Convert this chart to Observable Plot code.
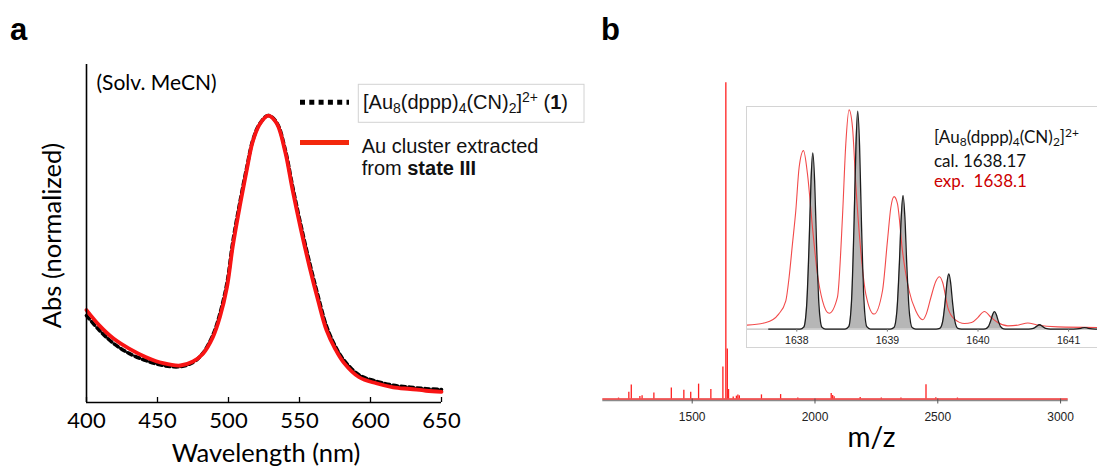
<!DOCTYPE html>
<html><head><meta charset="utf-8">
<script src="https://cdn.jsdelivr.net/npm/d3@7"></script>
<script src="https://cdn.jsdelivr.net/npm/@observablehq/plot@0.6"></script>
<style>
html,body{margin:0;padding:0;background:#fff}
#root{position:relative;width:1097px;height:466px;overflow:hidden;background:#fff}
#root svg{max-width:none !important;display:block}
.wrap{position:absolute}
</style></head>
<body><div id="root"></div>
<script>
// ---------- Panel a: UV-vis ----------
const wavelength = [400, 409, 419, 430, 442, 454, 466, 475, 482, 489, 494, 499, 503, 508, 513, 517, 522, 528, 534, 540, 545, 551, 557, 563, 569, 575, 581, 592, 604, 616, 628, 639, 650];
const absCluster1 = [0.303, 0.252, 0.206, 0.171, 0.146, 0.129, 0.125, 0.140, 0.172, 0.235, 0.310, 0.418, 0.558, 0.697, 0.822, 0.912, 0.972, 1.0, 0.975, 0.880, 0.756, 0.617, 0.489, 0.372, 0.266, 0.198, 0.149, 0.096, 0.074, 0.060, 0.053, 0.048, 0.045];
const absStateIII = [0.322, 0.269, 0.223, 0.188, 0.158, 0.137, 0.129, 0.143, 0.170, 0.228, 0.299, 0.404, 0.544, 0.685, 0.814, 0.908, 0.970, 1.0, 0.972, 0.872, 0.744, 0.603, 0.474, 0.357, 0.252, 0.188, 0.140, 0.088, 0.067, 0.053, 0.047, 0.041, 0.037];
const xTicksA = [400, 450, 500, 550, 600, 650];

// ---------- Panel b: mass spectrum ----------
const msMz  = [1200, 1242, 1252, 1287, 1296, 1344, 1415, 1466, 1494, 1526, 1576, 1625, 1637, 1643, 1648, 1667, 1680, 1686, 1692, 1782, 1860, 1930, 2066, 2072, 2078, 2184, 2270, 2350, 2452, 2492, 2580];
const msInt = [0.3, 2.1, 4.4, 0.8, 1.0, 1.9, 3.5, 2.8, 2.1, 4.7, 3.0, 10.1, 100, 15.8, 3.0, 0.6, 0.9, 1.3, 1.0, 1.3, 1.4, 0.3, 1.7, 1.1, 0.7, 0.5, 0.3, 0.3, 4.5, 0.4, 0.3];
const xTicksB = [1500, 2000, 2500, 3000];

// ---------- Inset: isotope pattern ----------
const expMz  = [1637.44, 1637.66, 1637.80, 1637.879, 1637.915, 1637.952, 1637.989, 1638.026, 1638.074, 1638.118, 1638.173, 1638.228, 1638.284, 1638.357, 1638.449, 1638.504, 1638.541, 1638.577, 1638.615, 1638.651, 1638.706, 1638.762, 1638.853, 1638.946, 1639.001, 1639.038, 1639.074, 1639.111, 1639.166, 1639.24, 1639.313, 1639.39, 1639.43, 1639.48, 1639.535, 1639.575, 1639.61, 1639.667, 1639.74, 1639.851, 1639.93, 1639.998, 1640.071, 1640.145, 1640.218, 1640.33, 1640.45, 1640.55, 1640.65, 1640.88, 1641.43];
const expInt = [1.8, 3.0, 6.9, 13.0, 23.7, 39.0, 54.3, 74.3, 81.9, 71.2, 46.7, 25.3, 13.0, 7.3, 14.7, 51.3, 85.0, 100.6, 92.6, 66.6, 36.0, 16.1, 6.9, 17.6, 40.6, 55.8, 60.8, 57.6, 36.0, 17.6, 8.4, 4.3, 7.0, 14.5, 22.0, 24.0, 21.4, 9.9, 4.6, 2.6, 3.0, 5.3, 8.1, 5.3, 3.0, 1.5, 1.9, 2.8, 1.9, 1.0, 0.7];
const calMz  = [1637.69,
  1638.037, 1638.077, 1638.109, 1638.137, 1638.157, 1638.177, 1638.197, 1638.217, 1638.245, 1638.277, 1638.317,
  1638.533, 1638.573, 1638.605, 1638.633, 1638.653, 1638.673, 1638.693, 1638.713, 1638.741, 1638.773, 1638.813,
  1639.033, 1639.073, 1639.105, 1639.133, 1639.153, 1639.173, 1639.193, 1639.213, 1639.241, 1639.273, 1639.313,
  1639.538, 1639.578, 1639.610, 1639.638, 1639.658, 1639.678, 1639.698, 1639.718, 1639.746, 1639.778, 1639.818,
  1640.042, 1640.082, 1640.114, 1640.142, 1640.162, 1640.182, 1640.202, 1640.222, 1640.250, 1640.282, 1640.322,
  1640.559, 1640.611, 1640.639, 1640.679, 1640.719, 1640.747, 1640.799,
  1641.056, 1641.136, 1641.176, 1641.216, 1641.296, 1641.43];
const calInt = [0,
  0, 0.9, 10.9, 40.5, 68, 80.9, 68, 40.5, 10.9, 0.9, 0,
  0, 1.1, 13.5, 50, 84, 100, 84, 50, 13.5, 1.1, 0,
  0, 0.7, 8.3, 30.7, 51.5, 61.3, 51.5, 30.7, 8.3, 0.7, 0,
  0, 0.3, 3.4, 12.7, 21.3, 25.3, 21.3, 12.7, 3.4, 0.3, 0,
  0, 0.1, 1.1, 4.0, 6.7, 8.0, 6.7, 4.0, 1.1, 0.1, 0,
  0, 0.3, 1.0, 2.0, 1.0, 0.3, 0,
  0, 0.35, 0.7, 0.35, 0, 0];
const xTicksInset = [1638, 1639, 1640, 1641];

// ---------- build tables ----------
const uv = wavelength.map((w, i) => ({w, c1: absCluster1[i], s3: absStateIII[i]}));
const ms = msMz.map((mz, i) => ({mz, int: msInt[i]}));
const expData = expMz.map((mz, i) => ({mz, int: expInt[i]}));
const calData = calMz.map((mz, i) => ({mz, int: calInt[i]}));
const plain = d => String(d);

const root = document.getElementById("root");
function place(node, left, top, w, h, extra) {
  const d = document.createElement("div");
  d.className = "wrap";
  d.style.left = left + "px"; d.style.top = top + "px";
  d.style.width = w + "px"; d.style.height = h + "px";
  if (extra) Object.assign(d.style, extra);
  d.appendChild(node);
  root.appendChild(d);
  return d;
}

// Panel a
const plotA = Plot.plot({
  width: 470, height: 466,
  marginLeft: 86, marginRight: 29, marginTop: 64, marginBottom: 64,
  style: {background: "transparent", fontFamily: "Lato, sans-serif", overflow: "visible"},
  x: {domain: [400, 650]},
  y: {domain: [0, 1.178], axis: null},
  marks: [
    Plot.lineY(uv, {x: "w", y: "c1", stroke: "#000", strokeWidth: 3.6, strokeDasharray: "4.5,3.5", curve: "catmull-rom"}),
    Plot.lineY(uv, {x: "w", y: "s3", stroke: "#f81414", strokeWidth: 3.8, curve: "catmull-rom"}),
    Plot.ruleY([0], {stroke: "#000", strokeWidth: 1.6}),
    Plot.ruleX([400], {stroke: "#000", strokeWidth: 1.6}),
    Plot.tickX(xTicksA, {x: d => d, stroke: "#000", strokeWidth: 1.3, insetTop: 333}),
    Plot.axisX(xTicksA, {tickSize: 0, tickPadding: 10, fontSize: 22, fontFamily: "Lato, sans-serif", label: null, fill: "#000", tickFormat: plain}),
    Plot.text(["Wavelength (nm)"], {frameAnchor: "bottom", lineAnchor: "middle", textAnchor: "middle", dx: 2, dy: 51, fontSize: 25.5, fontFamily: "Lato, sans-serif", fill: "#000"}),
    Plot.text(["Abs (normalized)"], {frameAnchor: "left", lineAnchor: "middle", textAnchor: "middle", rotate: -90, dx: -34, dy: 2, fontSize: 25.5, fontFamily: "Lato, sans-serif", fill: "#000"}),
    Plot.text(["(Solv. MeCN)"], {frameAnchor: "top-left", lineAnchor: "middle", textAnchor: "start", dx: 10, dy: 19, fontSize: 21, fontFamily: "Lato, sans-serif", fill: "#000"})
  ]
});
place(plotA, 0, 0, 470, 466);

// Panel b main spectrum
const plotB = Plot.plot({
  width: 507, height: 406,
  marginLeft: 12.3, marginRight: 29.3, marginTop: 0, marginBottom: 67.5,
  style: {background: "transparent", fontFamily: "'Liberation Sans', Arial, sans-serif", overflow: "visible"},
  x: {domain: [1136, 3031]},
  y: {domain: [0, 107], axis: null},
  marks: [
    Plot.ruleY([0], {stroke: "#8a8a8a", strokeWidth: 1.6, dy: 1.4}),
    Plot.ruleX(ms, {x: "mz", y1: 0, y2: "int", stroke: "#ff2020", strokeWidth: 1.3}),
    Plot.ruleY([0], {stroke: "#f03434", strokeWidth: 1.5}),
    Plot.axisX(xTicksB, {tickSize: 5, tickPadding: 8, fontSize: 12, label: null, stroke: "#555", fill: "#222", tickFormat: plain}),
    Plot.text(["m/z"], {frameAnchor: "bottom", lineAnchor: "middle", textAnchor: "middle", dx: 36, dy: 39, fontSize: 28, fontFamily: "Lato, sans-serif", fill: "#000"})
  ]
});
place(plotB, 590, 60, 507, 406);

// Inset
const plotI = Plot.plot({
  width: 360, height: 240,
  marginLeft: 0, marginRight: 0, marginTop: 0, marginBottom: 18.4,
  style: {background: "#fff", fontFamily: "'Liberation Sans', Arial, sans-serif", overflow: "hidden"},
  x: {domain: [1637.456, 1637.456 + 360 / 90.6]},
  y: {domain: [0, 101.7], axis: null},
  marks: [
    Plot.ruleY([0], {stroke: "#b0b0b0", strokeWidth: 1}),
    Plot.areaY(calData, {x: "mz", y: "int", fill: "#b6b6b6", curve: "monotone-x"}),
    Plot.lineY(expData, {x: "mz", y: "int", stroke: "#f24a4a", strokeWidth: 1.1, curve: "monotone-x"}),
    Plot.lineY(calData, {x: "mz", y: "int", stroke: "#1c1c1c", strokeWidth: 1.3, curve: "monotone-x"}),
    Plot.axisX(xTicksInset, {tickSize: 3, tickPadding: 4, fontSize: 10.5, label: null, stroke: "#777", fill: "#222", tickFormat: plain})
  ]
});
place(plotI, 746, 106, 360, 240, {border: "1px solid #d4d4d4", background: "#fff"});

// Overlay texts and legend
const ns = "http://www.w3.org/2000/svg";
const ov = document.createElementNS(ns, "svg");
ov.setAttribute("width", 1097); ov.setAttribute("height", 466);
ov.style.position = "absolute"; ov.style.left = "0"; ov.style.top = "0"; ov.style.pointerEvents = "none";
ov.innerHTML = `
<g font-family="'Liberation Sans', Arial, sans-serif" font-weight="bold" font-size="31" fill="#000">
  <text x="10" y="40">a</text>
  <text x="601" y="40">b</text>
</g>
<line x1="300" x2="349" y1="102.3" y2="102.3" stroke="#000" stroke-width="5" stroke-dasharray="5,4.3"/>
<line x1="300" x2="349" y1="142.5" y2="142.5" stroke="#f3280c" stroke-width="5"/>
<rect x="358.3" y="84.3" width="225.7" height="38" fill="#fff" stroke="#d2d2d2" stroke-width="1"/>
<g font-family="'Liberation Sans', Arial, sans-serif" font-size="20" fill="#111">
  <text x="363" y="108.5">[Au<tspan font-size="14" dy="4">8</tspan><tspan dy="-4">(dppp)</tspan><tspan font-size="14" dy="4">4</tspan><tspan dy="-4">(CN)</tspan><tspan font-size="14" dy="4">2</tspan><tspan dy="-4">]</tspan><tspan font-size="14" dy="-7">2+</tspan><tspan dy="7"> (</tspan><tspan font-weight="bold">1</tspan>)</text>
  <text x="361.7" y="153.3">Au cluster extracted</text>
  <text x="361.7" y="175.3">from <tspan font-weight="bold">state III</tspan></text>
</g>
<g font-family="Lato, sans-serif" font-size="17" fill="#111">
  <text x="934" y="143.3">[Au<tspan font-size="12" dy="3">8</tspan><tspan dy="-3">(dppp)</tspan><tspan font-size="12" dy="3">4</tspan><tspan dy="-3">(CN)</tspan><tspan font-size="12" dy="3">2</tspan><tspan dy="-3">]</tspan><tspan font-size="12" dy="-6">2+</tspan></text>
  <text x="934" y="166.7">cal. 1638.17</text>
  <text x="934" y="187.3" fill="#cc0000" xml:space="preserve">exp.  1638.1</text>
</g>`;
root.appendChild(ov);
</script>
</body></html>
